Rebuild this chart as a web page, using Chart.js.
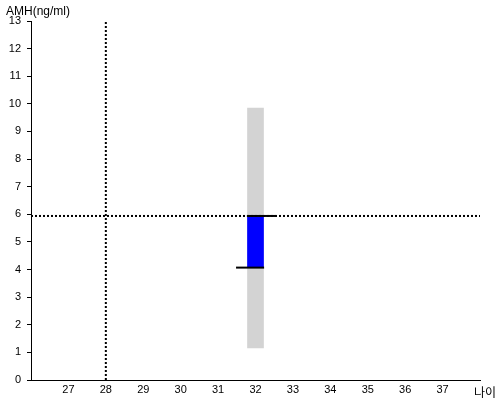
<!DOCTYPE html>
<html>
<head>
<meta charset="utf-8">
<script src="https://cdn.jsdelivr.net/npm/chart.js@4"></script>
<style>
  html, body { margin: 0; padding: 0; background: #fff; }
  #wrap { width: 500px; height: 400px; }
</style>
</head>
<body>
<div id="wrap"><canvas id="amhChart"></canvas></div>
<script>
// axis labels and ranges
const yTitle = 'AMH(ng/ml)';
const xTitle = '나이';
const xMin = 26, xMax = 38;
const yMin = 0, yMax = 13;

// age the bars sit at
const age = 32;
// grey range (normal band) and blue range (measured band)
const greyRange = [1.16, 9.85];
const blueRange = [4.07, 5.94];
// short black marks at the ends of the blue band
const lowMarkX = [31.48, 32.23];
const highMarkX = [31.77, 32.57];
// dotted reference lines
const refAge = 28;
const refAmh = 5.94;

const ctx = document.getElementById('amhChart').getContext('2d');

// draws the two axis titles
const axisTitles = {
    id: 'axisTitles',
    afterDraw(chart) {
        const c = chart.ctx;
        c.save();
        c.fillStyle = '#000';
        c.textBaseline = 'alphabetic';
        c.textAlign = 'left';
        c.font = '12px "Liberation Sans", Arial, sans-serif';
        c.fillText(yTitle, 6, 15);
        c.font = '12px "Noto Sans CJK KR", sans-serif';
        c.fillText(xTitle, 474, 397);
        c.restore();
    }
};

const lineStyle = {
    type: 'line',
    borderColor: '#000',
    borderWidth: 2,
    pointRadius: 0,
    fill: false,
    showLine: true
};

const myChart = new Chart(ctx, {
    type: 'bar',
    data: {
        datasets: [
            {
                ...lineStyle,
                data: [{ x: refAge, y: yMin }, { x: refAge, y: yMax }],
                borderDash: [2, 2],
                order: 0
            },
            {
                ...lineStyle,
                data: [{ x: xMin, y: refAmh }, { x: xMax, y: refAmh }],
                borderDash: [2, 2],
                order: 1
            },
            {
                ...lineStyle,
                data: [{ x: lowMarkX[0], y: blueRange[0] }, { x: lowMarkX[1], y: blueRange[0] }],
                order: 2
            },
            {
                ...lineStyle,
                data: [{ x: highMarkX[0], y: blueRange[1] }, { x: highMarkX[1], y: blueRange[1] }],
                order: 2
            },
            {
                data: [{ x: age, y: blueRange }],
                backgroundColor: '#0000ff',
                borderWidth: 0,
                barThickness: 16,
                grouped: false,
                order: 3
            },
            {
                data: [{ x: age, y: greyRange }],
                backgroundColor: '#d3d3d3',
                borderWidth: 0,
                barThickness: 16,
                grouped: false,
                order: 4
            }
        ]
    },
    options: {
        animation: false,
        responsive: true,
        maintainAspectRatio: false,
        layout: { padding: { top: 21, right: 20, left: 0, bottom: 0 } },
        plugins: {
            legend: { display: false },
            tooltip: { enabled: false }
        },
        scales: {
            x: {
                type: 'linear',
                min: xMin,
                max: xMax,
                offset: false,
                afterFit: (s) => { s.height = 20; },
                grid: { display: false, drawTicks: false },
                border: { display: true, color: '#000', width: 1 },
                ticks: {
                    stepSize: 1,
                    padding: 3,
                    color: '#000',
                    maxRotation: 0,
                    autoSkip: false,
                    font: { family: '"Liberation Sans", Arial, sans-serif', size: 11 },
                    callback: (v) => (v === xMin || v === xMax ? '' : v)
                }
            },
            y: {
                type: 'linear',
                min: yMin,
                max: yMax,
                afterFit: (s) => { s.width = 31; },
                grid: {
                    drawOnChartArea: false,
                    drawTicks: true,
                    tickLength: 4,
                    color: '#000'
                },
                border: { display: true, color: '#000', width: 1 },
                ticks: {
                    stepSize: 1,
                    padding: 6,
                    color: '#000',
                    font: { family: '"Liberation Sans", Arial, sans-serif', size: 11 }
                }
            }
        }
    },
    plugins: [axisTitles]
});
</script>
</body>
</html>
